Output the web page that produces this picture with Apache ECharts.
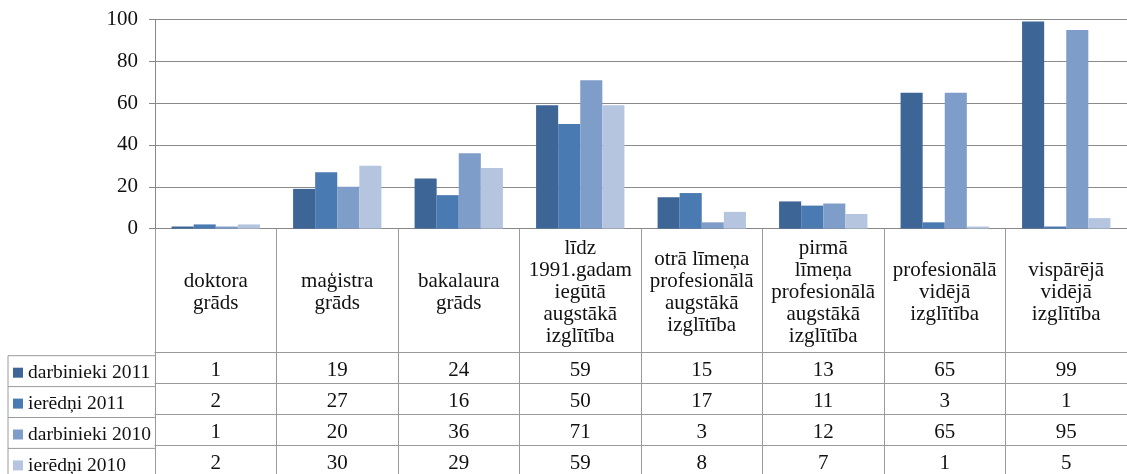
<!DOCTYPE html>
<html>
<head>
<meta charset="utf-8">
<script src="https://cdn.jsdelivr.net/npm/echarts@6/dist/echarts.min.js"></script>
<style>
html,body{margin:0;padding:0;background:#fff;}
#chart{width:1127px;height:474px;}
</style>
</head>
<body>
<div id="chart"></div>
<script>
// ---- data ----
var categories = [
  'doktora\ngrāds',
  'maģistra\ngrāds',
  'bakalaura\ngrāds',
  'līdz\n1991.gadam\niegūtā\naugstākā\nizglītība',
  'otrā līmeņa\nprofesionālā\naugstākā\nizglītība',
  'pirmā\nlīmeņa\nprofesionālā\naugstākā\nizglītība',
  'profesionālā\nvidējā\nizglītība',
  'vispārējā\nvidējā\nizglītība'
];
var seriesNames = ['darbinieki 2011', 'ierēdņi 2011', 'darbinieki 2010', 'ierēdņi 2010'];
var darbinieki2011 = [1, 19, 24, 59, 15, 13, 65, 99];
var ieredni2011    = [2, 27, 16, 50, 17, 11, 3, 1];
var darbinieki2010 = [1, 20, 36, 71, 3, 12, 65, 95];
var ieredni2010    = [2, 30, 29, 59, 8, 7, 1, 5];
var yTicks = [0, 20, 40, 60, 80, 100];

// ---- styles ----
var colors = ['#3D6596', '#4A7AB2', '#7F9DC9', '#B5C5E0'];
var rows = [darbinieki2011, ieredni2011, darbinieki2010, ieredni2010];
var FONT = '"Liberation Serif", "Times New Roman", serif';
var LINE = '#9a9a9a';
var gridTop = 19.5, gridBottomY = 232, gridLeft = 155;
var rowTop0 = 355.7, rowH = 30.9;

var xAxes = [{
  type: 'category',
  data: categories,
  gridIndex: 0,
  position: 'bottom',
  axisLine: {show: true, onZero: false, lineStyle: {color: '#888', width: 1}},
  axisTick: {show: true, interval: 0, length: 260, lineStyle: {color: LINE, width: 1}},
  axisLabel: {
    interval: 0, hideOverlap: false, margin: 64, verticalAlign: 'middle',
    fontFamily: FONT, fontSize: 21, lineHeight: 22, color: '#111', align: 'center'
  },
  splitLine: {show: false}
}];
rows.forEach(function (vals, r) {
  xAxes.push({
    type: 'category',
    data: categories,
    gridIndex: 0,
    position: 'bottom',
    offset: (rowTop0 - gridBottomY) + rowH * r,
    axisLine: {show: true, onZero: false, lineStyle: {color: LINE, width: 1}},
    axisTick: {show: false},
    axisLabel: {
      interval: 0, hideOverlap: false, margin: 8, verticalAlign: 'top',
      fontFamily: FONT, fontSize: 21, lineHeight: 21, color: '#111',
      formatter: function (v, i) { return String(vals[i]); }
    }
  });
});

var series = rows.map(function (vals, r) {
  return {
    name: seriesNames[r],
    type: 'bar',
    xAxisIndex: 0,
    yAxisIndex: 0,
    data: vals,
    barGap: '0%',
    barCategoryGap: '27.3%',
    itemStyle: {color: colors[r]},
    emphasis: {disabled: true}
  };
});

// left column borders of the data table
var graphics = [{
  type: 'line', shape: {x1: 8, y1: rowTop0, x2: 8, y2: 480},
  style: {stroke: LINE, lineWidth: 1}, silent: true
}];
for (var k = 0; k < rows.length; k++) {
  graphics.push({
    type: 'line', shape: {x1: 8, y1: rowTop0 + rowH * k, x2: gridLeft, y2: rowTop0 + rowH * k},
    style: {stroke: LINE, lineWidth: 1}, silent: true
  });
}

var chart = echarts.init(document.getElementById('chart'), null, {renderer: 'canvas'});
chart.setOption({
  backgroundColor: '#ffffff',
  animation: false,
  grid: {left: gridLeft, top: gridTop, width: 985, height: gridBottomY - gridTop, containLabel: false},
  legend: {
    orient: 'vertical',
    left: 13,
    top: rowTop0 + 7,
    height: 140,
    padding: 0,
    itemGap: 10.9,
    itemWidth: 10,
    itemHeight: 10,
    icon: 'rect',
    selectedMode: false,
    data: seriesNames,
    textStyle: {fontFamily: FONT, fontSize: 19.5, lineHeight: 20, color: '#111'}
  },
  xAxis: xAxes,
  yAxis: {
    type: 'value',
    min: yTicks[0],
    max: yTicks[yTicks.length - 1],
    interval: yTicks[1] - yTicks[0],
    axisLine: {show: true, lineStyle: {color: '#888', width: 1}},
    axisTick: {show: true, length: 6, lineStyle: {color: '#888'}},
    axisLabel: {margin: 17, fontFamily: FONT, fontSize: 21, color: '#111'},
    splitLine: {show: true, lineStyle: {color: '#8a8a8a', width: 1}}
  },
  graphic: graphics,
  series: series
});
</script>
</body>
</html>
